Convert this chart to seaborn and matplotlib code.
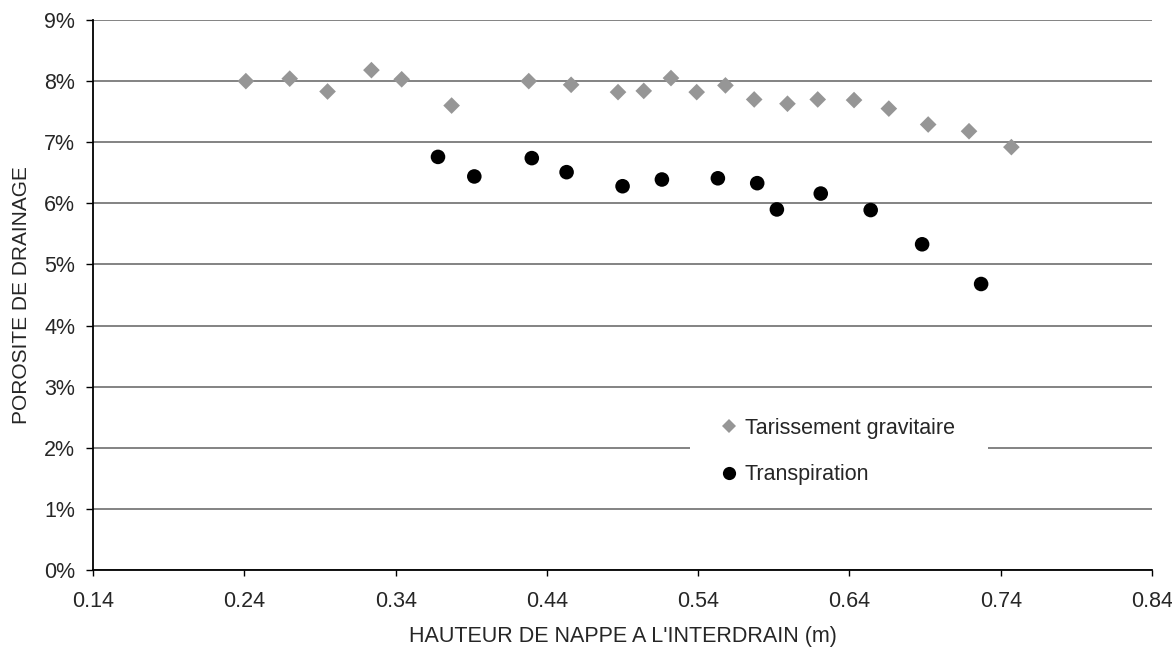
import numpy as np
import pandas as pd
import matplotlib
matplotlib.use("Agg")
import matplotlib.pyplot as plt
import seaborn as sns
from matplotlib.ticker import FuncFormatter, MultipleLocator
from matplotlib.lines import Line2D

# Data (x in m, y in %)
grav_x = [0.241, 0.270, 0.295, 0.324, 0.344, 0.377, 0.428, 0.456, 0.487, 0.504,
          0.522, 0.539, 0.558, 0.577, 0.599, 0.619, 0.643, 0.666, 0.692, 0.719, 0.747]
grav_y = [8.00, 8.04, 7.83, 8.18, 8.03, 7.60, 8.00, 7.94, 7.82, 7.84,
          8.05, 7.82, 7.93, 7.70, 7.63, 7.70, 7.69, 7.55, 7.29, 7.18, 6.92]
trans_x = [0.368, 0.392, 0.430, 0.453, 0.490, 0.516, 0.553, 0.579, 0.592, 0.621,
           0.654, 0.688, 0.727]
trans_y = [6.76, 6.44, 6.74, 6.51, 6.28, 6.39, 6.41, 6.33, 5.90, 6.16,
           5.89, 5.33, 4.68]
x_ticks = [0.14, 0.24, 0.34, 0.44, 0.54, 0.64, 0.74, 0.84]
labels = ["Tarissement gravitaire", "Transpiration"]

df_g = pd.DataFrame({"x": grav_x, "y": grav_y})
df_t = pd.DataFrame({"x": trans_x, "y": trans_y})

sns.set_style("white")
plt.rcParams["font.family"] = ["Liberation Sans", "DejaVu Sans"]

FS = 15.5

fig = plt.figure(figsize=(11.72, 6.52), dpi=100)
ax = fig.add_axes([0.0794, 0.1258, 0.9036, 0.8435])

for v in range(0, 10):
    ax.axhline(v, color="#7a7a7a", lw=1.3, zorder=0)

sns.scatterplot(data=df_g, x="x", y="y", ax=ax, marker="D", s=72,
                color="#969696", edgecolor="none", linewidth=0, zorder=3)
sns.scatterplot(data=df_t, x="x", y="y", ax=ax, marker="o", s=110,
                color="black", edgecolor="none", linewidth=0, zorder=3)

ax.set_xlim(0.14, 0.84)
ax.set_ylim(0, 9)
ax.set_xticks(x_ticks)
ax.set_xticklabels([f"{t:.2f}" for t in x_ticks])
ax.yaxis.set_major_locator(MultipleLocator(1))
ax.yaxis.set_major_formatter(FuncFormatter(lambda v, p: f"{v:.0f}%"))

for s in ["top", "right"]:
    ax.spines[s].set_visible(False)
for s in ["left", "bottom"]:
    ax.spines[s].set_color("black")
    ax.spines[s].set_linewidth(1.3)

ax.tick_params(axis="y", direction="out", length=5, width=1, color="black",
               labelsize=FS, pad=8, left=True)
ax.tick_params(axis="x", direction="out", length=4.5, width=1, color="black",
               labelsize=FS, pad=10.5, bottom=True)
ax.set_xlabel("HAUTEUR DE NAPPE A L'INTERDRAIN (m)", fontsize=FS, labelpad=10)
ax.set_ylabel("POROSITE DE DRAINAGE", fontsize=15, labelpad=9)

handles = [
    Line2D([], [], marker="D", ls="none", color="#969696", markersize=7, markeredgewidth=0),
    Line2D([], [], marker="o", ls="none", color="black", markersize=9.5, markeredgewidth=0),
]
leg = ax.legend(handles, labels, loc="upper left",
                bbox_to_anchor=(0.5637, 0.0, 0.2814, 0.3182), mode="expand",
                borderaxespad=0, frameon=True, fancybox=False, fontsize=FS,
                labelspacing=1.2, handletextpad=0.0, handlelength=1.5,
                borderpad=1.05)
leg.get_frame().set_facecolor("white")
leg.get_frame().set_edgecolor("none")
leg.get_frame().set_alpha(1)
leg.set_zorder(5)

fig.savefig("out.png", dpi=100)
